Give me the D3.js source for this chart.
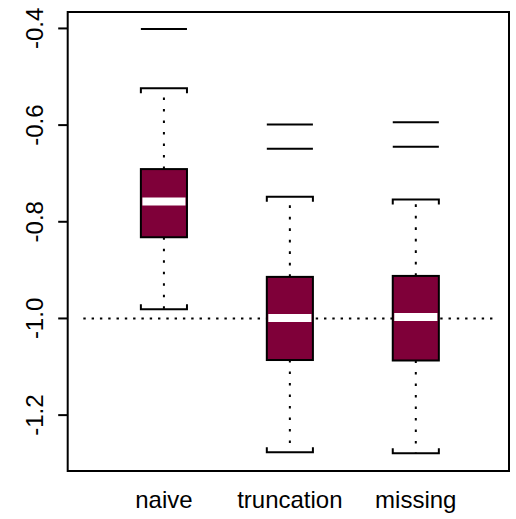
<!DOCTYPE html>
<html>
<head>
<meta charset="utf-8">
<script src="https://cdn.jsdelivr.net/npm/d3@7"></script>
<style>
  body { margin: 0; background: #fff; }
  text { font-family: "Liberation Sans", Arial, Helvetica, sans-serif; fill: #000; }
</style>
</head>
<body>
<div id="chart"></div>
<script>
// boxplot data
const groups = ["naive", "truncation", "missing"];
const lowerWhisker = [-0.981, -1.277, -1.279];
const q1 = [-0.832, -1.086, -1.087];
const median = [-0.758, -0.999, -0.997];
const q3 = [-0.691, -0.914, -0.912];
const upperWhisker = [-0.524, -0.748, -0.754];
const outliers = [[-0.401], [-0.599, -0.649], [-0.594, -0.645]];
const yTicks = [-0.4, -0.6, -0.8, -1.0, -1.2];
const refValue = -1.0;

const W = 516, H = 519;
const plot = {left: 67.7, right: 509, top: 12, bottom: 471};

const svg = d3.select("#chart").append("svg")
    .attr("width", W)
    .attr("height", H);

const x = d3.scaleLinear().domain([0.236, 3.74]).range([plot.left, plot.right]);
const y = d3.scaleLinear().domain([-0.366, -1.3156]).range([plot.top, plot.bottom]);
const halfW = 0.183; // half box width in x units

const data = groups.map((g, i) => ({
    name: g, pos: i + 1,
    lo: lowerWhisker[i], q1: q1[i], med: median[i], q3: q3[i], hi: upperWhisker[i],
    out: outliers[i]
}));

// reference line
svg.append("line")
    .attr("x1", x(0.36)).attr("x2", x(3.64))
    .attr("y1", y(refValue)).attr("y2", y(refValue))
    .attr("stroke", "#000").attr("stroke-width", 2)
    .attr("stroke-dasharray", "2.4,5.9");

const box = svg.selectAll(".box")
    .data(data)
    .enter()
    .append("g")
    .attr("class", "box");

// whiskers (dotted)
box.append("line")
    .attr("x1", d => x(d.pos)).attr("x2", d => x(d.pos))
    .attr("y1", d => y(d.q3)).attr("y2", d => y(d.hi))
    .attr("stroke", "#000").attr("stroke-width", 2)
    .attr("stroke-dasharray", "2.6,8.9");
box.append("line")
    .attr("x1", d => x(d.pos)).attr("x2", d => x(d.pos))
    .attr("y1", d => y(d.q1)).attr("y2", d => y(d.lo))
    .attr("stroke", "#000").attr("stroke-width", 2)
    .attr("stroke-dasharray", "2.6,8.9");

// staples with short legs
box.append("path")
    .attr("d", d => {
        const a = x(d.pos - halfW), b = x(d.pos + halfW), yy = y(d.hi);
        return "M" + a + "," + (yy + 5) + "V" + yy + "H" + b + "V" + (yy + 5);
    })
    .attr("fill", "none").attr("stroke", "#000").attr("stroke-width", 2);
box.append("path")
    .attr("d", d => {
        const a = x(d.pos - halfW), b = x(d.pos + halfW), yy = y(d.lo);
        return "M" + a + "," + (yy - 5) + "V" + yy + "H" + b + "V" + (yy - 5);
    })
    .attr("fill", "none").attr("stroke", "#000").attr("stroke-width", 2);

// boxes
box.append("rect")
    .attr("x", d => x(d.pos - halfW))
    .attr("width", d => x(d.pos + halfW) - x(d.pos - halfW))
    .attr("y", d => y(d.q3))
    .attr("height", d => y(d.q1) - y(d.q3))
    .attr("fill", "#7f0039")
    .attr("stroke", "#000").attr("stroke-width", 2);

// median band
box.append("line")
    .attr("x1", d => x(d.pos - halfW) + 1.5).attr("x2", d => x(d.pos + halfW) - 1.5)
    .attr("y1", d => y(d.med)).attr("y2", d => y(d.med))
    .attr("stroke", "#fff").attr("stroke-width", 8);

// outliers drawn as dashes
box.selectAll(".out")
    .data(d => d.out.map(v => ({pos: d.pos, v: v})))
    .enter()
    .append("line")
    .attr("class", "out")
    .attr("x1", d => x(d.pos - halfW)).attr("x2", d => x(d.pos + halfW))
    .attr("y1", d => y(d.v)).attr("y2", d => y(d.v))
    .attr("stroke", "#000").attr("stroke-width", 2);

// frame
svg.append("rect")
    .attr("x", plot.left).attr("y", plot.top)
    .attr("width", plot.right - plot.left).attr("height", plot.bottom - plot.top)
    .attr("fill", "none").attr("stroke", "#000").attr("stroke-width", 2);

// y axis
const yAxis = svg.append("g");
yAxis.selectAll(".tick")
    .data(yTicks)
    .enter()
    .append("line")
    .attr("x1", plot.left - 9.5).attr("x2", plot.left)
    .attr("y1", d => y(d)).attr("y2", d => y(d))
    .attr("stroke", "#000").attr("stroke-width", 2);
yAxis.selectAll(".lab")
    .data(yTicks)
    .enter()
    .append("text")
    .attr("transform", d => "translate(43," + y(d) + ") rotate(-90)")
    .attr("text-anchor", "middle")
    .style("font-size", "24px")
    .text(d => d3.format(".1f")(d).replace("−", "-"));

// x labels
svg.selectAll(".xlab")
    .data(data)
    .enter()
    .append("text")
    .attr("x", d => x(d.pos))
    .attr("y", 508)
    .attr("text-anchor", "middle")
    .style("font-size", "24px")
    .text(d => d.name);
</script>
</body>
</html>
